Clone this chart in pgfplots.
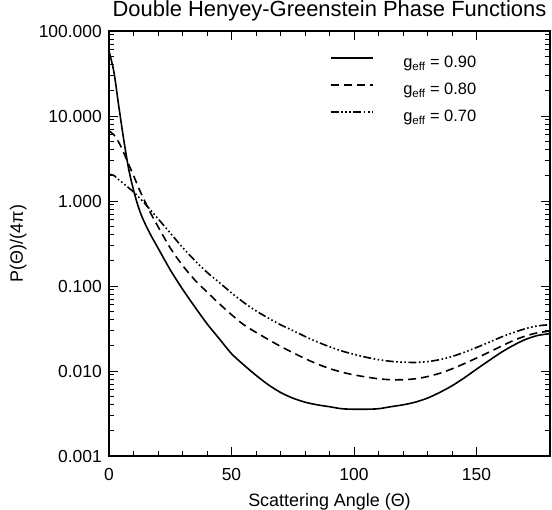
\documentclass[border=0pt]{standalone}
\usepackage{fontspec}
\setmainfont{Liberation Sans}
\usepackage{pgfplots}
\usepackage{pgfplotstable}
\pgfplotsset{compat=1.18}

\pgfplotstableread{
x y
0 58
2 33
4 13
6 5.3
8 2.4
10 1.35
12 0.85
14 0.60
17 0.40
20 0.28
25 0.155
30 0.092
35 0.057
40 0.036
45 0.024
50 0.0160
55 0.0118
60 0.0089
65 0.0069
70 0.0056
75 0.0048
80 0.0043
85 0.0040
90 0.0038
95 0.0036
100 0.00355
105 0.00355
110 0.0036
115 0.0038
120 0.0040
125 0.0043
130 0.0048
135 0.0056
140 0.0067
145 0.0083
150 0.0105
155 0.0132
160 0.0165
165 0.0200
170 0.0235
175 0.0262
180 0.0275
}\gninety

\pgfplotstableread{
x y
0 6.7
2 6.0
4 4.9
6 3.7
8 2.7
10 2.0
12 1.45
14 1.08
17 0.72
20 0.50
25 0.28
30 0.175
35 0.118
40 0.085
45 0.062
50 0.046
55 0.035
60 0.0285
65 0.0235
70 0.0195
75 0.0165
80 0.0140
85 0.0121
90 0.0107
95 0.0097
100 0.0090
105 0.0085
110 0.0081
115 0.0079
120 0.0079
125 0.0081
130 0.0086
135 0.0094
140 0.0106
145 0.0122
150 0.0142
155 0.0166
160 0.0195
165 0.0228
170 0.0258
175 0.0282
180 0.0295
}\geighty

\pgfplotstableread{
x y
0 2.06
2 2.0
4 1.78
6 1.60
8 1.43
10 1.28
12 1.12
14 0.98
17 0.78
20 0.62
25 0.42
30 0.285
35 0.200
40 0.145
45 0.110
50 0.083
55 0.064
60 0.051
65 0.042
70 0.035
75 0.030
80 0.0255
85 0.0220
90 0.0193
95 0.0172
100 0.0157
105 0.0145
110 0.0136
115 0.0130
120 0.0127
125 0.0126
130 0.0129
135 0.0136
140 0.0148
145 0.0166
150 0.0189
155 0.0217
160 0.0250
165 0.0283
170 0.0315
175 0.0340
180 0.0350
}\gseventy

\begin{document}
\begin{tikzpicture}
\begin{axis}[
  width=441bp, height=425bp, scale only axis,
  xmin=0, xmax=180, ymin=0.001, ymax=100, ymode=log,
  xtick={0,50,100,150}, xticklabels={0,50,100,150},
  minor x tick num=4,
  ytick={0.001,0.01,0.1,1,10,100},
  yticklabels={0.001,0.010,0.100,1.000,10.000,100.000},
  tick align=inside,
  major tick length=9bp, minor tick length=5bp,
  every tick/.style={black, line width=0.9bp},
  axis line style={line width=1.2bp},
  ticklabel style={font=\fontsize{17.5}{20}\selectfont},
  yticklabel style={inner sep=0pt, anchor=east, xshift=-7bp},
  xticklabel style={inner sep=0pt, anchor=north, yshift=-12bp},
  title={Double Henyey-Greenstein Phase Functions},
  title style={font=\fontsize{22}{26}\selectfont, at={(axis description cs:0.5,1)}, anchor=base, yshift=9bp, inner sep=0pt},
  xlabel={Scattering Angle (Θ)},
  xlabel style={font=\fontsize{18}{21}\selectfont, at={(axis description cs:0.5,0)}, anchor=center, yshift=-46bp},
  ylabel={P(Θ)/(4π)},
  ylabel style={font=\fontsize{18}{21}\selectfont, at={(axis description cs:-0.206,0.5)}, anchor=center, rotate=0},
  legend image code/.code={\draw[#1] (0bp,5.8bp) -- (42bp,5.8bp);},
  legend style={draw=none, fill=none, inner sep=0pt, at={(axis description cs:0.5,0.942)}, anchor=north west,
    font=\fontsize{16.5}{19}\selectfont, row sep=11bp,
    nodes={inner sep=0pt, text height=12bp, text depth=4bp},
    /tikz/every odd column/.append style={column sep=30bp}},
  legend cell align=left,
]
\addplot[black, line width=1.6bp, smooth] table[x=x,y=y]{\gninety};
\addlegendentry{g\textsubscript{eff} = 0.90}
\addplot[black, line width=1.6bp, smooth, dash pattern=on 8bp off 5bp] table[x=x,y=y]{\geighty};
\addlegendentry{g\textsubscript{eff} = 0.80}
\addplot[black, line width=1.6bp, smooth, dash pattern=on 8bp off 2.5bp on 1.6bp off 2.5bp on 1.6bp off 2.5bp on 1.6bp off 2.5bp] table[x=x,y=y]{\gseventy};
\addlegendentry{g\textsubscript{eff} = 0.70}
\end{axis}
\pgfresetboundingbox
\path (current axis.south west) ++(-109bp,-54bp) rectangle ++(552bp,510bp);
\end{tikzpicture}
\end{document}
